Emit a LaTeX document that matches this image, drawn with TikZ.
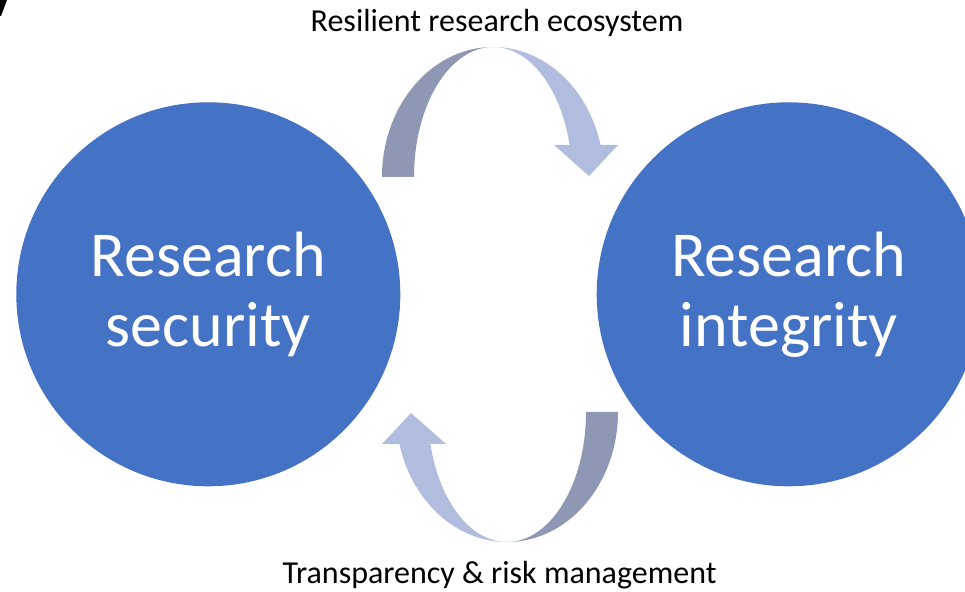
\documentclass[tikz,border=0pt]{standalone}
\usepackage{fontspec}
\setmainfont{Carlito}
\usepackage{tikz}
\usetikzlibrary{positioning}

\definecolor{circleblue}{RGB}{68,114,196}
\definecolor{banddark}{RGB}{142,152,180}
\definecolor{bandlight}{RGB}{176,189,223}

\begin{document}
\begin{tikzpicture}[
            x = 1pt, y = 1pt, % one unit per pixel
            node distance = 0pt,
            semithick % line style
        ]

        \tikzstyle{topic}=[
            circle,
            fill = circleblue,
            text = white,
            minimum size = 384pt,
            inner sep = 0pt,
            align = center,
            font = \fontsize{64}{70}\selectfont
        ]
        \tikzstyle{caption}=[
            anchor = base,
            inner sep = 0pt,
            font = \fontsize{32}{36}\selectfont
        ]

        \useasboundingbox (0,0) rectangle (965,591);

        % small black sliver in the corner
        \fill[black] (0,591) -- (7,591) -- (1,575) -- (0,575) -- cycle;

        \node[topic] (sec) at (208.3,296.7) {Research\\security};
        \node[topic] (int) at (788.7,296.7) {Research\\integrity};

        \coordinate (up) at (493,414);
        \coordinate (down) at (507,179);

        % upper arrow
        \fill[banddark] (up) ++(-111,0)
            arc[start angle=180, end angle=90, x radius=111, y radius=130]
            arc[start angle=90, end angle=180, x radius=79, y radius=130] -- cycle;
        \fill[bandlight] (up) ++(0,130)
            arc[start angle=90, end angle=14.25, x radius=111, y radius=130]
            -- (618,446) -- (589,415) -- (554,446) -- (569.6,446)
            arc[start angle=14.25, end angle=90, x radius=79, y radius=130] -- cycle;

        % lower arrow
        \fill[banddark] (down) ++(111,0)
            arc[start angle=0, end angle=-90, x radius=111, y radius=130]
            arc[start angle=-90, end angle=0, x radius=79, y radius=130] -- cycle;
        \fill[bandlight] (down) ++(0,-130)
            arc[start angle=270, end angle=194.25, x radius=111, y radius=130]
            -- (382,147) -- (411,178) -- (446,147) -- (430.4,147)
            arc[start angle=194.25, end angle=270, x radius=79, y radius=130] -- cycle;

        \node[caption] (eco) at (497,559) {Resilient research ecosystem};
        \node[caption] (risk) at (499.5,8) {Transparency \& risk management};

  \end{tikzpicture}
\end{document}
